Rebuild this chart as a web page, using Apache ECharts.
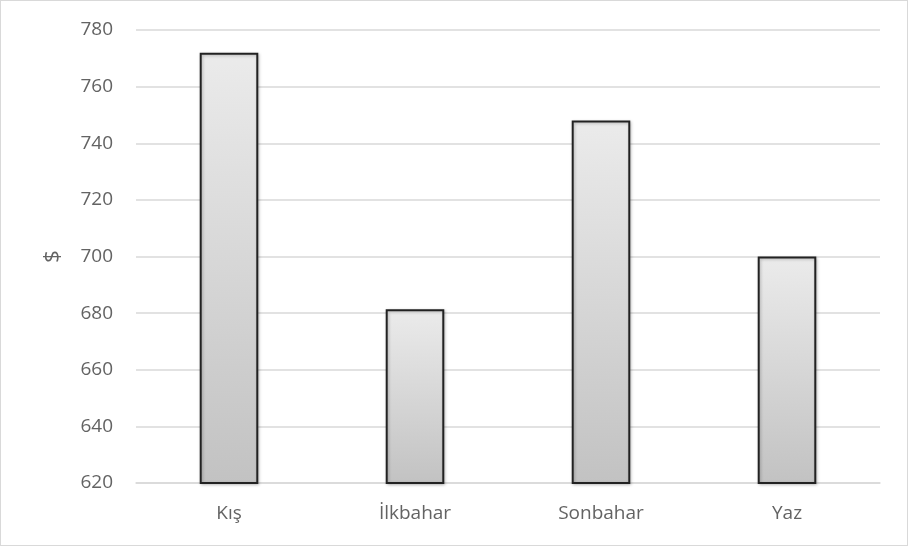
<!DOCTYPE html>
<html><head><meta charset="utf-8">
<script src="https://cdn.jsdelivr.net/npm/echarts@6/dist/echarts.min.js"></script>
<style>html,body{margin:0;padding:0;background:#fff}#c{width:908px;height:546px;box-sizing:border-box;border:1px solid #d9d9d9}</style>
</head><body><div id="c"></div>
<script>
const categories = ['Kış', 'İlkbahar', 'Sonbahar', 'Yaz'];
const values = [772, 681.4, 748, 700];
const yTicks = {min: 620, max: 780, interval: 20};
const yName = '$';

const chart = echarts.init(document.getElementById('c'), null, {renderer: 'canvas'});
chart.setOption({
  animation: false,
  grid: {left: 135, right: 27, top: 29, bottom: 62},
  xAxis: {
    type: 'category', data: categories,
    axisLine: {lineStyle: {color: '#d9d9d9', width: 1.5}},
    axisTick: {show: false},
    axisLabel: {color: '#636363', fontSize: 19, fontFamily: 'Open Sans', margin: 21}
  },
  yAxis: {
    type: 'value', min: yTicks.min, max: yTicks.max, interval: yTicks.interval,
    name: yName, nameLocation: 'middle', nameGap: 72,
    nameTextStyle: {color: '#636363', fontSize: 22, fontFamily: 'Open Sans'},
    axisLine: {show: false}, axisTick: {show: false},
    axisLabel: {color: '#636363', fontSize: 19, fontFamily: 'Open Sans', margin: 23},
    splitLine: {lineStyle: {color: '#d9d9d9', width: 1.5}}
  },
  series: [{
    type: 'bar', data: values, barWidth: '31.5%',
    itemStyle: {
      color: new echarts.graphic.LinearGradient(0, 0, 0, 1, [
        {offset: 0, color: '#ebebeb'}, {offset: 1, color: '#c2c2c2'}
      ]),
      borderColor: '#222', borderWidth: 2,
      shadowColor: 'rgba(0,0,0,0.25)', shadowBlur: 3, shadowOffsetX: 1, shadowOffsetY: 1
    }
  }]
});
</script></body></html>
